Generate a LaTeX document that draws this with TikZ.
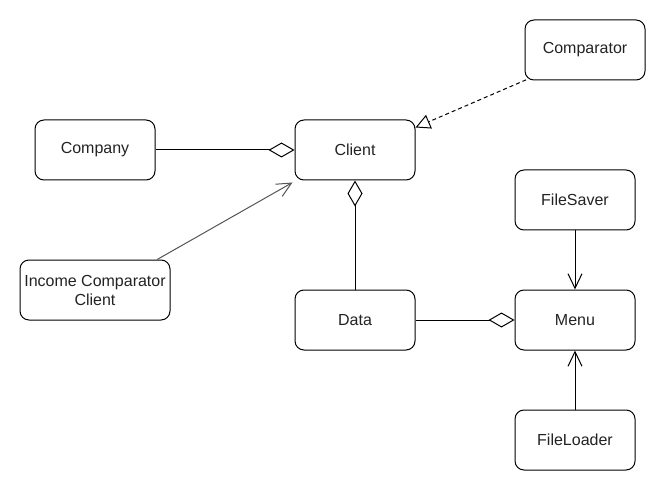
\documentclass[tikz,border=0pt]{standalone}
\usepackage{fontspec}
\setmainfont{Liberation Sans}
\usetikzlibrary{arrows.meta}
\definecolor{txt}{HTML}{222222}
\definecolor{lg}{HTML}{555555}
\begin{document}
\begin{tikzpicture}[x=0.75pt,y=-0.75pt,
  box/.style={draw, rounded corners=6.75pt, minimum width=90pt, minimum height=45pt,
    line width=0.75pt, align=center, inner sep=0pt, text=txt,
    font=\fontsize{12}{14.25}\selectfont},
  conn/.style={line width=0.75pt},
  aggr/.style={conn, -{Diamond[open, length=19.5pt, width=11.25pt]}},
  openarr/.style={conn, -{Straight Barb[length=11pt, width=10.5pt]}},
  realize/.style={conn, dashed, dash pattern=on 3pt off 2.25pt, -{Triangle[open, length=11pt, width=11pt]}}]
\useasboundingbox (0,0) rectangle (666,491);
\node[box] (comparator) at (585,50) {Comparator};
\node[box] (company) at (95,150) {Company};
\node[box] (client) at (355,150) {Client};
\node[box] (filesaver) at (575,200) {FileSaver};
\node[box, minimum width=112.5pt] (income) at (95,290) {Income Comparator\\Client};
\node[box] (data) at (355,320) {Data};
\node[box] (menu) at (575,320) {Menu};
\node[box] (fileloader) at (575,440) {FileLoader};

\draw[aggr] (company.east) -- (client.west);
\draw[aggr] (data.north) -- (client.south);
\draw[aggr] (data.east) -- (menu.west);
\draw[openarr] (filesaver.south) -- (menu.north);
\draw[openarr] (fileloader.north) -- (menu.south);
\draw[realize] ([xshift=1.2pt,yshift=0.5pt]comparator.south west) -- ([yshift=-6pt]client.north east);
\draw[openarr, draw=lg] ([xshift=-10pt]income.north east) -- ([xshift=-1.5pt,yshift=-1.5pt]client.south west);
\end{tikzpicture}
\end{document}
